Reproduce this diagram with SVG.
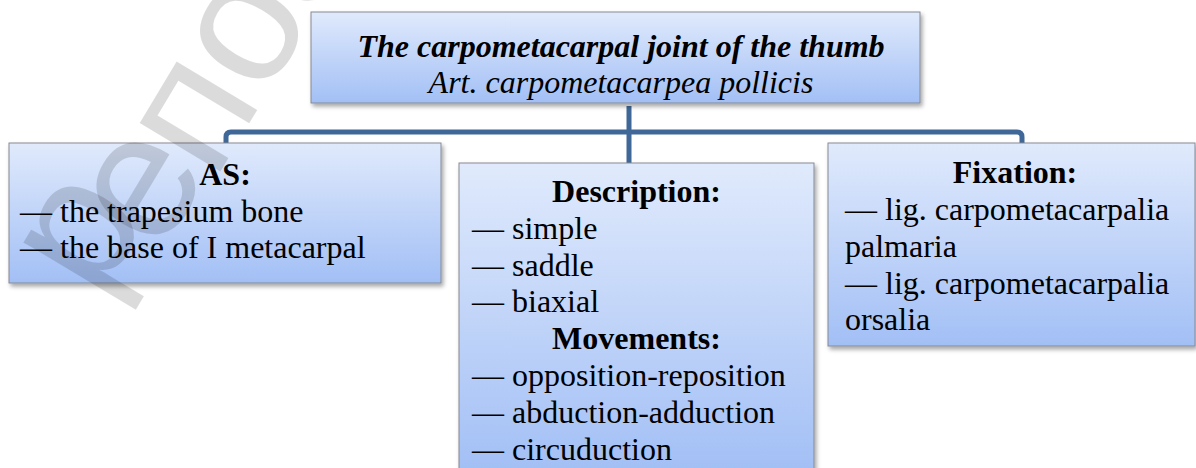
<svg xmlns="http://www.w3.org/2000/svg" width="1196" height="468" viewBox="0 0 1196 468">
  <defs>
    <linearGradient id="boxFill" x1="0" y1="0" x2="0" y2="1">
      <stop offset="0" stop-color="#e0eafc"/>
      <stop offset="1" stop-color="#a2bff5"/>
    </linearGradient>
    <filter id="shadow" x="-5%" y="-10%" width="112%" height="125%">
      <feDropShadow dx="2" dy="3" stdDeviation="2" flood-color="#000" flood-opacity="0.35"/>
    </filter>
    <style>
      .box { fill: url(#boxFill); stroke: #858a94; stroke-width: 1; filter: url(#shadow); }
      .txt { font-family: "Liberation Serif", "Times New Roman", serif; font-size: 32px; fill: #000; }
      .hd { font-weight: bold; text-anchor: middle; }
      .conn { fill: none; stroke: #3f6898; stroke-width: 5; stroke-linejoin: round; }
      .mark { font-family: "Liberation Sans", Arial, sans-serif; font-size: 178px; fill: #000; fill-opacity: 0.14; }
    </style>
  </defs>

  <rect width="1196" height="468" fill="#ffffff"/>

  <!-- connectors -->
  <g id="connectors">
    <path class="conn" d="M226 143 V137 Q226 132 231 132 H1017 Q1022 132 1022 137 V143"/>
    <path class="conn" d="M629 106 V164"/>
  </g>

  <!-- root -->
  <g id="joint">
    <rect class="box" x="311" y="12" width="609" height="91"/>
    <text class="txt" x="621" y="56.5" text-anchor="middle" font-weight="bold" font-style="italic">The carpometacarpal joint of the thumb</text>
    <text class="txt" x="621" y="93" text-anchor="middle" font-style="italic">Art. carpometacarpea pollicis</text>
  </g>

  <!-- articular surfaces -->
  <g id="as">
    <rect class="box" x="9" y="143" width="432" height="140"/>
    <text class="txt hd" x="225" y="185">AS:</text>
    <text class="txt" x="20" y="221.5">— the trapesium bone</text>
    <text class="txt" x="20" y="258.3">— the base of I metacarpal</text>
  </g>

  <!-- description and movements -->
  <g id="description">
    <rect class="box" x="459" y="163" width="355" height="309"/>
    <text class="txt hd" x="636.5" y="202">Description:</text>
    <text class="txt" x="472" y="238.8">— simple</text>
    <text class="txt" x="472" y="275.6">— saddle</text>
    <text class="txt" x="472" y="312.4">— biaxial</text>
    <text class="txt hd" x="636.5" y="349.2">Movements:</text>
    <text class="txt" x="472" y="386">— opposition-reposition</text>
    <text class="txt" x="472" y="422.8">— abduction-adduction</text>
    <text class="txt" x="472" y="459.6">— circuduction</text>
  </g>

  <!-- fixation -->
  <g id="fixation">
    <rect class="box" x="828" y="143" width="367" height="203"/>
    <text class="txt hd" x="1015" y="183">Fixation:</text>
    <text class="txt" x="845" y="220">— lig. carpometacarpalia</text>
    <text class="txt" x="845" y="256.8">palmaria</text>
    <text class="txt" x="845" y="293.6">— lig. carpometacarpalia</text>
    <text class="txt" x="845" y="330.4">orsalia</text>
  </g>

  <!-- faint repository watermark laid over the page, one glyph per placement -->
  <g id="watermark" class="mark">
    <text transform="translate(98 301) rotate(-59)">р</text>
    <text transform="translate(160 255) rotate(-59)">е</text>
    <text transform="translate(214 182) rotate(-59)">п</text>
    <text transform="translate(264 99) rotate(-59)">о</text>
    <text transform="translate(315 14) rotate(-59)">з</text>
  </g>
</svg>
